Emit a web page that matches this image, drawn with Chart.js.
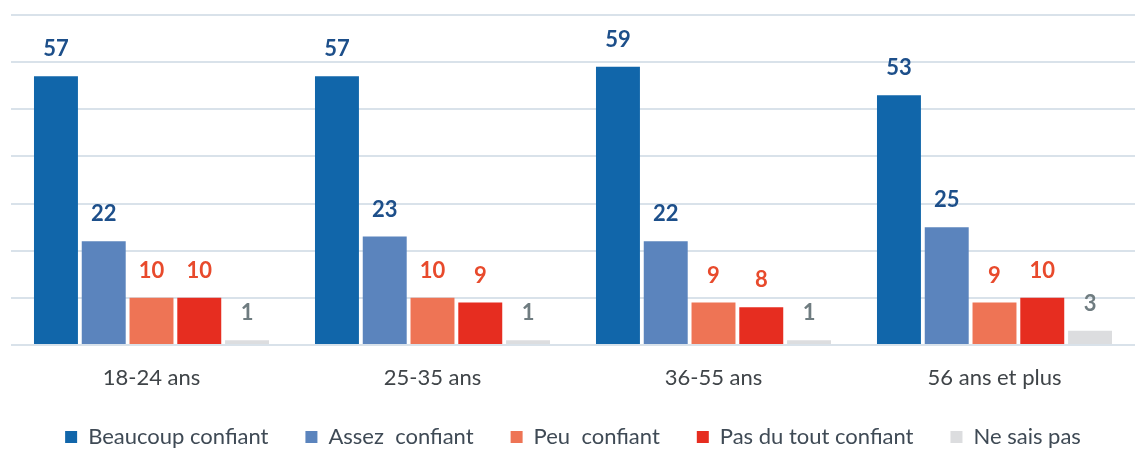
<!DOCTYPE html>
<html>
<head>
<meta charset="utf-8">
<script src="https://cdn.jsdelivr.net/npm/chart.js@4"></script>
<style>
  html, body { margin: 0; padding: 0; background: #fff; }
  #wrap { width: 1135px; height: 451px; }
</style>
</head>
<body>
<div id="wrap"><canvas id="confChart"></canvas></div>
<script>
// Data
const categories = ['18-24 ans', '25-35 ans', '36-55 ans', '56 ans et plus'];
const seriesNames = ['Beaucoup confiant', 'Assez  confiant', 'Peu  confiant', 'Pas du tout confiant', 'Ne sais pas'];
const beaucoup = [57, 57, 59, 53];
const assez = [22, 23, 22, 25];
const peu = [10, 10, 9, 9];
const pasDuTout = [10, 9, 8, 10];
const neSaisPas = [1, 1, 1, 3];
const yTicks = [0, 10, 20, 30, 40, 50, 60, 70];

const barColors = ['#1166aa', '#5b84bd', '#ee7455', '#e62d20', '#dcdddf'];
const labelColors = ['#1d4f8a', '#1d4f8a', '#e84a2c', '#e84a2c', '#6f7c80'];

// Value labels above bars
const valueLabels = {
    id: 'valueLabels',
    afterDatasetsDraw(chart) {
        const ctx = chart.ctx;
        ctx.save();
        ctx.font = 'bold 22px Lato';
        ctx.textAlign = 'center';
        ctx.textBaseline = 'middle';
        chart.data.datasets.forEach((ds, i) => {
            chart.getDatasetMeta(i).data.forEach((bar, j) => {
                ctx.fillStyle = labelColors[i];
                ctx.fillText(ds.data[j], bar.x, bar.y - 27);
            });
        });
        ctx.restore();
    }
};

const ctx = document.getElementById('confChart').getContext('2d');
const confChart = new Chart(ctx, {
    type: 'bar',
    data: {
        labels: categories,
        datasets: [beaucoup, assez, peu, pasDuTout, neSaisPas].map((d, i) => ({
            label: seriesNames[i],
            data: d,
            backgroundColor: barColors[i],
            categoryPercentage: 0.85,
            barPercentage: 0.92,
        })),
    },
    options: {
        responsive: true,
        maintainAspectRatio: false,
        animation: false,
        layout: { padding: { top: 15, left: 11, right: 0, bottom: 0 } },
        scales: {
            x: {
                grid: { display: false, tickLength: 22 },
                border: { display: false },
                ticks: { color: '#3f4448', font: { family: 'Lato', size: 22, lineHeight: 1 }, padding: 0 },
            },
            y: {
                min: 0,
                max: 70,
                afterBuildTicks: (axis) => { axis.ticks = yTicks.map(v => ({ value: v })); },
                grid: { color: '#d9e2ea', lineWidth: 2, drawTicks: false },
                border: { display: false },
                ticks: { display: false },
            },
        },
        plugins: {
            legend: {
                position: 'bottom',
                maxHeight: 62,
                labels: {
                    color: '#3f4a55',
                    font: { family: 'Lato', size: 22 },
                    boxWidth: 12,
                    boxHeight: 12,
                    padding: 37,
                },
            },
            tooltip: { enabled: false },
        },
    },
    plugins: [valueLabels],
});
</script>
</body>
</html>
